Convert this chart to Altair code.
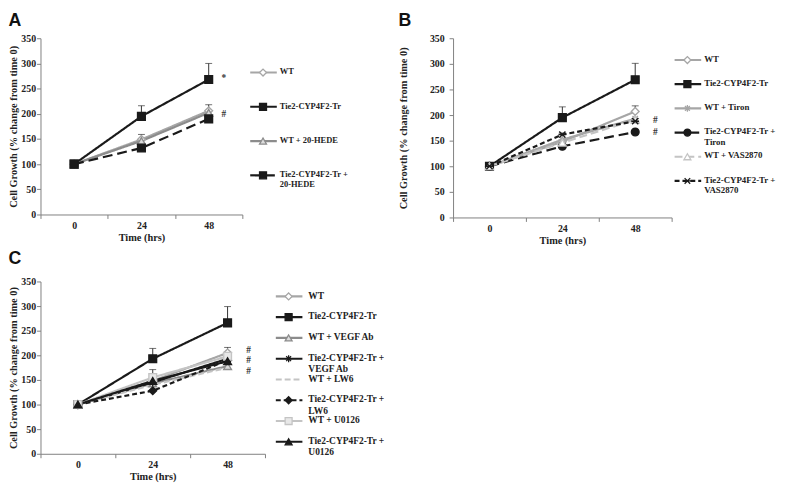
import altair as alt
import pandas as pd

times = [0, 24, 48]

# ---------------- Panel A data ----------------
a_series = ["WT", "Tie2-CYP4F2-Tr", "WT + 20-HEDE", "Tie2-CYP4F2-Tr + 20-HEDE"]
a_labels = ["WT", "Tie2-CYP4F2-Tr", "WT + 20-HEDE", "Tie2-CYP4F2-Tr +\n20-HEDE"]
a_wt = [100, 149, 206]
a_tie2 = [100, 195, 268]
a_wt_hede = [100, 146, 202]
a_tie2_hede = [100, 132, 190]
a_err_wt = [None, 159, 218]
a_err_tie2 = [None, 216, 300]
a_marks = ["*", "#"]
a_mark_values = [270, 200]

# ---------------- Panel B data ----------------
b_series = ["WT", "Tie2-CYP4F2-Tr", "WT + Tiron", "Tie2-CYP4F2-Tr + Tiron",
            "WT + VAS2870", "Tie2-CYP4F2-Tr + VAS2870"]
b_labels = ["WT", "Tie2-CYP4F2-Tr", "WT + Tiron", "Tie2-CYP4F2-Tr +\nTiron",
            "WT + VAS2870", "Tie2-CYP4F2-Tr +\nVAS2870"]
b_wt = [100, 148, 207]
b_tie2 = [100, 195, 269]
b_wt_tiron = [100, 152, 193]
b_tie2_tiron = [100, 139, 167]
b_wt_vas = [100, 146, 191]
b_tie2_vas = [100, 162, 188]
b_err_wt = [None, 165, 218]
b_err_tie2 = [None, 216, 301]
b_marks = ["#", "#"]
b_mark_values = [191, 166]

# ---------------- Panel C data ----------------
c_series = ["WT", "Tie2-CYP4F2-Tr", "WT + VEGF Ab", "Tie2-CYP4F2-Tr + VEGF Ab",
            "WT + LW6", "Tie2-CYP4F2-Tr + LW6", "WT + U0126", "Tie2-CYP4F2-Tr + U0126"]
c_labels = ["WT", "Tie2-CYP4F2-Tr", "WT + VEGF Ab", "Tie2-CYP4F2-Tr +\nVEGF Ab",
            "WT + LW6", "Tie2-CYP4F2-Tr +\nLW6", "WT + U0126", "Tie2-CYP4F2-Tr +\nU0126"]
c_wt = [100, 148, 205]
c_tie2 = [100, 193, 266]
c_wt_vegf = [100, 143, 178]
c_tie2_vegf = [100, 145, 193]
c_wt_lw6 = [100, 140, 175]
c_tie2_lw6 = [100, 128, 190]
c_wt_u0126 = [100, 155, 198]
c_tie2_u0126 = [100, 148, 188]
c_err_wt = [None, None, 216]
c_err_tie2 = [None, 214, 299]
c_err_wt_u0126 = [None, 171, None]
c_marks = ["#", "#", "#"]
c_mark_values = [211, 190, 168]

# ---------------- styles ----------------
LG = "#a6a6a6"
MG = "#8c8c8c"
VLG = "#c4c4c4"
BK = "#1a1a1a"
ASTER = "M-1,0H1M0,-1V1M-0.7,-0.7L0.7,0.7M-0.7,0.7L0.7,-0.7"
XMARK = "M-0.8,-0.8L0.8,0.8M-0.8,0.8L0.8,-0.8M-1,0H1"
NONE = "M0,0"
SOLID = [1, 0]
# stroke, dash, shape, fill
a_style = {
    "WT": (LG, SOLID, "diamond", "#ffffff"),
    "Tie2-CYP4F2-Tr": (BK, SOLID, "square", BK),
    "WT + 20-HEDE": (MG, SOLID, "triangle-up", "#dcdcdc"),
    "Tie2-CYP4F2-Tr + 20-HEDE": (BK, [10, 5], "square", BK),
}
b_style = {
    "WT": (LG, SOLID, "diamond", "#ffffff"),
    "Tie2-CYP4F2-Tr": (BK, SOLID, "square", BK),
    "WT + Tiron": (LG, SOLID, ASTER, "#ffffff"),
    "Tie2-CYP4F2-Tr + Tiron": (BK, [10, 5], "circle", BK),
    "WT + VAS2870": (VLG, [8, 4], "triangle-up", "#ffffff"),
    "Tie2-CYP4F2-Tr + VAS2870": (BK, [5, 3], XMARK, BK),
}
c_style = {
    "WT": (LG, SOLID, "diamond", "#ffffff"),
    "Tie2-CYP4F2-Tr": (BK, SOLID, "square", BK),
    "WT + VEGF Ab": (MG, SOLID, "triangle-up", "#dcdcdc"),
    "Tie2-CYP4F2-Tr + VEGF Ab": (BK, SOLID, ASTER, BK),
    "WT + LW6": (VLG, [6, 3], NONE, VLG),
    "Tie2-CYP4F2-Tr + LW6": (BK, [5, 3], "diamond", BK),
    "WT + U0126": (VLG, SOLID, "square", "#e8e8e8"),
    "Tie2-CYP4F2-Tr + U0126": (BK, SOLID, "triangle-up", BK),
}

SERIF = "Liberation Serif"
SANS = "Liberation Sans"
AXC = "#808080"


def res(ch):
    return ch.resolve_scale(x="independent", y="independent", stroke="independent",
                            fill="independent", shape="independent",
                            strokeDash="independent")


def panel(letter, series, labels, values, errors, marks, mark_values, style,
          w, h, lab_pad, title_pad, leg_w, leg_h, leg_pad, lx, tgap, leg_fs,
          title_offset, mark_dx):
    rows = []
    for s, vals in zip(series, values):
        for t, v in zip(times, vals):
            rows.append({"series": s, "time": t, "value": v})
    df = pd.DataFrame(rows)
    erows = []
    for s, ups in errors.items():
        vals = values[series.index(s)]
        for t, v, u in zip(times, vals, ups):
            if u is not None:
                erows.append({"series": s, "time": t, "value": v, "upper": u})
    edf = pd.DataFrame(erows)
    adf = pd.DataFrame({"time": [48] * len(marks), "value": mark_values, "sym": marks})

    sc_stroke = alt.Scale(domain=series, range=[style[s][0] for s in series])
    sc_dash = alt.Scale(domain=series, range=[style[s][1] for s in series])
    sc_shape = alt.Scale(domain=series, range=[style[s][2] for s in series])
    sc_fill = alt.Scale(domain=series, range=[style[s][3] for s in series])

    xaxis = alt.Axis(labelAngle=0, tickBand="extent", ticks=True, tickSize=4,
                     labelPadding=2, titlePadding=2, labelFont=SERIF, labelFontWeight="bold",
                     labelFontSize=10, titleFont=SERIF, titleFontWeight="bold",
                     titleFontSize=10.5, domainColor=AXC, tickColor=AXC)
    xscale = alt.Scale(type="band", paddingInner=0, paddingOuter=0)
    x = alt.X("time:O", title="Time (hrs)", bandPosition=0.5, scale=xscale, axis=xaxis)
    yaxis = alt.Axis(values=list(range(0, 351, 50)), grid=False, labelOverlap=False,
                     title="Cell Growth (% change from time 0)", ticks=True,
                     tickSize=4, labelPadding=lab_pad, titlePadding=title_pad,
                     labelFont=SERIF, labelFontWeight="bold", labelFontSize=10,
                     titleFont=SERIF, titleFontWeight="bold", titleFontSize=10.5,
                     domainColor=AXC, tickColor=AXC)
    yscale = alt.Scale(domain=[0, 350])
    y = alt.Y("value:Q", scale=yscale, axis=yaxis)
    yu = alt.Y("upper:Q", scale=yscale, axis=yaxis)
    stroke = alt.Stroke("series:N", scale=sc_stroke, legend=None)
    dash = alt.StrokeDash("series:N", scale=sc_dash, legend=None)
    shape = alt.Shape("series:N", scale=sc_shape, legend=None)
    fill = alt.Fill("series:N", scale=sc_fill, legend=None)

    base = alt.Chart(df)
    lines = base.mark_line(strokeWidth=2.2).encode(x=x, y=y, stroke=stroke, strokeDash=dash,
                                                    detail="series:N")
    ebase = alt.Chart(edf)
    erule = ebase.mark_rule(strokeWidth=1, color="#333333").encode(
        x=x, y=y, y2="upper:Q")
    ecap = ebase.mark_tick(size=7, thickness=1, color="#333333").encode(x=x, y=yu)
    pts = base.mark_point(size=62, strokeWidth=1.4, opacity=1).encode(
        x=x, y=y, shape=shape, stroke=stroke, fill=fill)
    ann = alt.Chart(adf).mark_text(align="left", baseline="middle", dx=mark_dx,
                                   font=SERIF, fontSize=9.5, fontWeight="bold",
                                   color="#333333").encode(x=x, y=y, text="sym:N")
    plot = alt.layer(lines, erule, ecap, pts, ann).properties(width=w, height=h)

    ldf = pd.DataFrame({"series": series, "label": labels, "idx": list(range(len(series)))})
    ly = alt.Y("idx:O", scale=alt.Scale(type="point", padding=leg_pad), axis=None)
    lbase = alt.Chart(ldf)
    lrule = lbase.mark_rule(strokeWidth=2.2).encode(
        x=alt.value(lx), x2=alt.value(lx + 27), y=ly, stroke=stroke, strokeDash=dash)
    lpts = lbase.mark_point(size=50, strokeWidth=1.3, opacity=1).encode(
        x=alt.value(lx + 13), y=ly, shape=shape, stroke=stroke, fill=fill)
    ltxt = lbase.mark_text(align="left", baseline="top", dy=-leg_fs * 0.6, lineBreak="\n",
                           lineHeight=leg_fs * 1.2,
                           font=SERIF, fontSize=leg_fs, fontWeight="bold",
                           color="#222222").encode(x=alt.value(lx + tgap), y=ly, text="label:N")
    leg = alt.layer(lrule, lpts, ltxt).properties(width=leg_w, height=leg_h)

    grp = alt.hconcat(plot, leg, spacing=0,
                      title=alt.TitleParams(letter, anchor="start", offset=title_offset,
                                            font=SANS, fontSize=18, fontWeight="bold",
                                            color="#111111"))
    return res(grp)


pA = panel("A", a_series, a_labels, [a_wt, a_tie2, a_wt_hede, a_tie2_hede],
           {"WT": a_err_wt, "Tie2-CYP4F2-Tr": a_err_tie2}, a_marks, a_mark_values, a_style,
           w=205, h=179, lab_pad=1, title_pad=2, leg_w=155, leg_h=174, leg_pad=1.1,
           lx=6, tgap=30, leg_fs=8.6, title_offset=3, mark_dx=13)
pB = panel("B", b_series, b_labels, [b_wt, b_tie2, b_wt_tiron, b_tie2_tiron, b_wt_vas, b_tie2_vas],
           {"WT": b_err_wt, "Tie2-CYP4F2-Tr": b_err_tie2}, b_marks, b_mark_values, b_style,
           w=222, h=182, lab_pad=5, title_pad=21, leg_w=84, leg_h=167, leg_pad=0.9,
           lx=-10, tgap=30, leg_fs=9.0, title_offset=3, mark_dx=18)
pC = panel("C", c_series, c_labels,
           [c_wt, c_tie2, c_wt_vegf, c_tie2_vegf, c_wt_lw6, c_tie2_lw6, c_wt_u0126, c_tie2_u0126],
           {"WT": c_err_wt, "Tie2-CYP4F2-Tr": c_err_tie2, "WT + U0126": c_err_wt_u0126},
           c_marks, c_mark_values, c_style,
           w=228, h=175, lab_pad=1, title_pad=2, leg_w=110, leg_h=178, leg_pad=0.72,
           lx=9, tgap=33, leg_fs=9.6, title_offset=8, mark_dx=19)

top = res(alt.hconcat(pA, pB, spacing=0))
chart = res(alt.vconcat(top, pC, spacing=4)).properties(padding=0).configure_view(
    stroke="transparent"
).configure_axis(
    labelColor="#222222", titleColor="#222222", domainWidth=1, tickWidth=1
)

chart.save("out.html", embed_options={"renderer": "svg", "actions": False})
